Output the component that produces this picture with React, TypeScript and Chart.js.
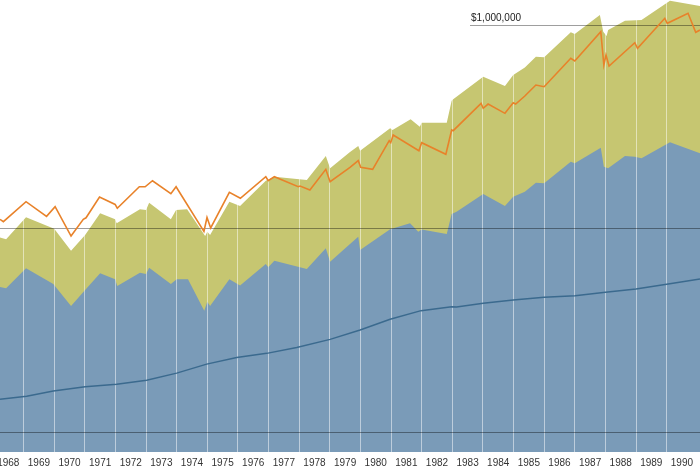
import React, { useEffect, useRef } from "react";
import { Chart, registerables } from "chart.js";

Chart.register(...registerables);

// ---- Data ----
const yearLabels = [
  "1968", "1969", "1970", "1971", "1972", "1973", "1974", "1975", "1976", "1977", "1978",
  "1979", "1980", "1981", "1982", "1983", "1984", "1985", "1986", "1987", "1988", "1989", "1990",
];
const gridYears = [1969, 1970, 1971, 1972, 1973, 1974, 1975, 1976, 1977, 1978, 1979, 1980,
  1981, 1982, 1983, 1984, 1985, 1986, 1987, 1988, 1989, 1990];

const xMin = 1968.23;
const xMax = 1991.09;
const yMin = 8040;
const yMax = 1326500;

const millionValue = 1000000;
const fullLines = [10000, 100000];
const millionLabel = "$1,000,000";

// Upper (olive) area
const totalYears = [1968.23, 1968.43, 1969.08, 1970.0, 1970.55, 1971.01, 1971.5, 1971.99, 1972.04,
  1972.8, 1973.0, 1973.1, 1973.81, 1973.98, 1974.34, 1974.93, 1975.0, 1975.09, 1975.72, 1976.07,
  1976.91, 1977.19, 1978.25, 1978.87, 1979.01, 1979.66, 1979.93, 1979.99, 1980.97, 1981.05,
  1981.64, 1981.94, 1982.0, 1982.82, 1982.98, 1983.03, 1984.01, 1984.72, 1984.99, 1985.37,
  1985.73, 1986.0, 1986.87, 1987.0, 1987.82, 1987.93, 1988.04, 1988.09, 1988.64, 1989.18,
  1990.11, 1991.09];
const totalValues = [90700, 88900, 113900, 100000, 78100, 93300, 119200, 111400, 106500,
  124700, 123800, 134300, 111400, 123800, 124700, 92200, 96800, 93300, 135900, 129500,
  172200, 180200, 173600, 227800, 198200, 238300, 255000, 241800, 311400, 305500,
  344600, 317100, 331700, 331700, 425100, 431900, 557700, 502100, 568500, 618700,
  699000, 694300, 920900, 903400, 1119600, 927100, 883300, 945100, 1049800, 1058100,
  1315900, 1239400];

// Lower (blue) area
const baseYears = [1968.23, 1968.43, 1969.08, 1969.97, 1970.55, 1971.01, 1971.5, 1971.99, 1972.06,
  1972.8, 1973.0, 1973.1, 1973.81, 1974.0, 1974.37, 1974.9, 1975.0, 1975.09, 1975.72, 1976.07,
  1976.91, 1976.99, 1977.19, 1978.25, 1978.87, 1979.01, 1979.66, 1979.93, 1979.99, 1980.97,
  1981.62, 1981.89, 1982.0, 1982.82, 1982.98, 1983.14, 1984.01, 1984.72, 1984.99, 1985.37,
  1985.73, 1986.0, 1986.87, 1987.0, 1987.85, 1987.95, 1988.09, 1988.64, 1988.96, 1989.18,
  1990.11, 1991.09];
const baseValues = [51800, 51100, 64000, 53600, 41800, 50100, 60500, 56600, 52400,
  60900, 60100, 64500, 53600, 56600, 56600, 39700, 43900, 41800, 56600, 52700,
  67200, 64800, 69800, 63500, 80300, 69000, 84300, 91500, 78800, 99500,
  106500, 96800, 99400, 94400, 118300, 121400, 148300, 129500, 143800, 152200,
  168400, 167200, 213600, 209800, 250100, 201800, 198200, 227800, 226000, 221900,
  265900, 234800];

// Orange line
const lineYears = [1968.23, 1968.34, 1969.08, 1969.75, 1970.03, 1970.55, 1970.95, 1971.04, 1971.48,
  1971.99, 1972.06, 1972.78, 1972.97, 1973.21, 1973.81, 1973.98, 1974.89, 1974.99, 1975.11,
  1975.72, 1976.08, 1976.91, 1976.99, 1977.19, 1977.97, 1978.03, 1978.35, 1978.87, 1979.01,
  1979.66, 1979.93, 1980.01, 1980.4, 1980.94, 1980.99, 1981.07, 1981.91, 1982.0, 1982.79,
  1982.98, 1983.03, 1983.94, 1984.01, 1984.17, 1984.72, 1984.99, 1985.07, 1985.37, 1985.73,
  1986.0, 1986.87, 1987.0, 1987.85, 1987.95, 1988.02, 1988.12, 1988.96, 1989.05, 1989.94,
  1990.02, 1990.7, 1990.95, 1991.09];
const lineValues = [111400, 108400, 135900, 115200, 128500, 92200, 111400, 113300, 143300,
  131700, 126200, 160900, 160900, 172200, 148800, 160900, 97100, 113700, 101000,
  151100, 141200, 180200, 172200, 180200, 160900, 162200, 155100, 195900, 170300,
  200000, 216000, 200400, 195900, 270700, 264700, 288600, 241800, 264700, 232200,
  305500, 303100, 412800, 390300, 409500, 368700, 415600, 409500, 448300, 507800,
  498100, 686500, 665900, 927100, 636500, 712300, 629300, 818800, 768200, 1078600,
  1019400, 1141300, 920900, 945100];

// Dark blue line
const investedYears = [1968.23, 1969.1, 1969.97, 1971.01, 1972.04, 1973.02, 1974.0, 1974.98,
  1975.96, 1976.94, 1977.92, 1979.01, 1979.99, 1980.97, 1981.98, 1982.98, 1983.14, 1984.01,
  1984.99, 1986.0, 1987.01, 1988.0, 1989.0, 1990.0, 1991.09];
const investedValues = [14600, 15100, 16000, 16800, 17300, 18100, 19600, 21700,
  23400, 24500, 26200, 28700, 31900, 36000, 39700, 41500, 41400, 43100,
  44800, 46200, 47000, 48800, 50700, 53500, 56800];

const toPoints = (xs: number[], ys: number[]) => xs.map((x, i) => ({ x, y: ys[i] }));

const overlayPlugin = {
  id: "overlay",
  afterDatasetDraw(chart: any, args: any) {
    if (args.index !== 1) return;
    const { ctx, chartArea } = chart;
    const xs = chart.scales.x;
    const ys = chart.scales.y;
    ctx.save();
    ctx.lineWidth = 1;
    ctx.strokeStyle = "rgba(255,255,255,0.5)";
    gridYears.forEach((yr) => {
      const px = Math.floor(xs.getPixelForValue(yr)) + 0.5;
      ctx.beginPath();
      ctx.moveTo(px, chartArea.top);
      ctx.lineTo(px, chartArea.bottom);
      ctx.stroke();
    });
    ctx.strokeStyle = "rgba(0,0,0,0.38)";
    fullLines.forEach((v) => {
      const py = Math.floor(ys.getPixelForValue(v)) + 0.5;
      ctx.beginPath();
      ctx.moveTo(chartArea.left, py);
      ctx.lineTo(chartArea.right, py);
      ctx.stroke();
    });
    const my = Math.floor(ys.getPixelForValue(millionValue)) + 0.5;
    const mx = chartArea.right - 230;
    ctx.beginPath();
    ctx.moveTo(mx, my);
    ctx.lineTo(chartArea.right, my);
    ctx.stroke();
    ctx.fillStyle = "#222";
    ctx.font = "10px 'Liberation Sans', Arial, sans-serif";
    ctx.textAlign = "left";
    ctx.textBaseline = "alphabetic";
    ctx.fillText(millionLabel, mx + 1, my - 5);
    ctx.restore();
  },
};

export default function App() {
  const canvasRef = useRef<HTMLCanvasElement | null>(null);

  useEffect(() => {
    document.body.style.margin = "0";
    const canvas = canvasRef.current;
    if (!canvas) return;
    const chart = new Chart(canvas, {
      type: "line",
      data: {
        datasets: [
          {
            label: "Total",
            data: toPoints(totalYears, totalValues),
            borderWidth: 0,
            borderColor: "rgba(0,0,0,0)",
            backgroundColor: "#c6c671",
            fill: "start",
            pointRadius: 0,
            tension: 0,
            order: 3,
          },
          {
            label: "Base",
            data: toPoints(baseYears, baseValues),
            borderWidth: 0,
            borderColor: "rgba(0,0,0,0)",
            backgroundColor: "#7a9bb8",
            fill: "start",
            pointRadius: 0,
            tension: 0,
            order: 2,
          },
          {
            label: "Invested",
            data: toPoints(investedYears, investedValues),
            borderWidth: 1.5,
            borderColor: "#3b6a8e",
            fill: false,
            pointRadius: 0,
            tension: 0,
            order: 1,
          },
          {
            label: "Value",
            data: toPoints(lineYears, lineValues),
            borderWidth: 1.6,
            borderColor: "#e8822a",
            fill: false,
            pointRadius: 0,
            tension: 0,
            order: 0,
          },
        ],
      },
      options: {
        animation: false,
        responsive: false,
        maintainAspectRatio: false,
        layout: { padding: 0 },
        plugins: {
          legend: { display: false },
          tooltip: { enabled: false },
        },
        scales: {
          x: {
            type: "linear",
            min: xMin,
            max: xMax,
            grid: { display: false, drawTicks: false },
            border: { display: false },
            afterBuildTicks: (scale: any) => {
              scale.ticks = yearLabels.map((l) => ({ value: Number(l) + 0.5 }));
            },
            afterFit: (scale: any) => {
              scale.height = 14;
              scale.paddingLeft = 0;
              scale.paddingRight = 0;
            },
            ticks: {
              autoSkip: false,
              maxRotation: 0,
              padding: 5,
              color: "#333",
              font: { family: "'Liberation Sans Narrow', 'Liberation Sans', Arial, sans-serif", size: 10 },
              callback: (_v: any, i: number) => yearLabels[i],
            },
          },
          y: {
            type: "logarithmic",
            display: false,
            min: yMin,
            max: yMax,
          },
        },
      },
      plugins: [overlayPlugin],
    });
    return () => chart.destroy();
  }, []);

  return (
    <div style={{ width: 700, height: 466 }}>
      <canvas ref={canvasRef} width={700} height={466} />
    </div>
  );
}
